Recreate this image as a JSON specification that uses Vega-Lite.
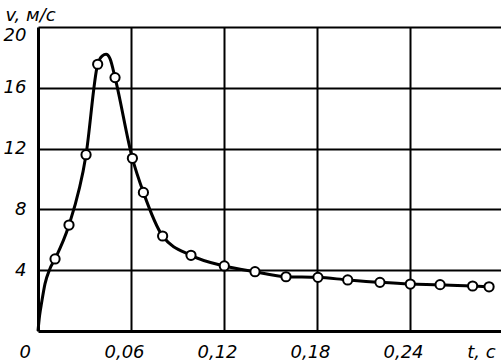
{
  "$schema": "https://vega.github.io/schema/vega-lite/v6.json",
  "width": 463,
  "height": 304,
  "autosize": "none",
  "padding": {"left": 38, "top": 27, "right": 0, "bottom": 32},
  "background": "white",
  "config": {
    "view": {"stroke": null},
    "font": "DejaVu Sans",
    "axis": {
      "labelFont": "DejaVu Sans",
      "labelFontStyle": "italic",
      "labelFontSize": 18,
      "labelColor": "black",
      "titleFont": "DejaVu Sans",
      "titleFontStyle": "italic",
      "titleFontWeight": "normal",
      "titleFontSize": 18,
      "titleColor": "black",
      "gridColor": "black",
      "gridWidth": 2,
      "gridOpacity": 1,
      "domainColor": "black",
      "domainWidth": 3,
      "ticks": false
    }
  },
  "datasets": {
    "curve": [
      {"t": 0, "v": 0},
      {"t": 0.001, "v": 1.0},
      {"t": 0.0024, "v": 1.9},
      {"t": 0.0045, "v": 3.1},
      {"t": 0.0075, "v": 4.05},
      {"t": 0.011, "v": 4.74},
      {"t": 0.02, "v": 6.97},
      {"t": 0.031, "v": 11.6},
      {"t": 0.0385, "v": 17.55},
      {"t": 0.0415, "v": 18.1},
      {"t": 0.0439, "v": 18.2},
      {"t": 0.0465, "v": 17.9},
      {"t": 0.0497, "v": 16.67},
      {"t": 0.0609, "v": 11.36},
      {"t": 0.068, "v": 9.12},
      {"t": 0.0804, "v": 6.25},
      {"t": 0.0987, "v": 4.98},
      {"t": 0.1202, "v": 4.28},
      {"t": 0.14, "v": 3.9},
      {"t": 0.16, "v": 3.57},
      {"t": 0.1806, "v": 3.53},
      {"t": 0.1998, "v": 3.36},
      {"t": 0.2206, "v": 3.2},
      {"t": 0.2402, "v": 3.09},
      {"t": 0.2594, "v": 3.05},
      {"t": 0.2804, "v": 2.96},
      {"t": 0.291, "v": 2.91}
    ],
    "points": [
      {"t": 0.011, "v": 4.74},
      {"t": 0.02, "v": 6.97},
      {"t": 0.031, "v": 11.6},
      {"t": 0.0385, "v": 17.55},
      {"t": 0.0497, "v": 16.67},
      {"t": 0.0609, "v": 11.36},
      {"t": 0.068, "v": 9.12},
      {"t": 0.0804, "v": 6.25},
      {"t": 0.0987, "v": 4.98},
      {"t": 0.1202, "v": 4.28},
      {"t": 0.14, "v": 3.9},
      {"t": 0.16, "v": 3.57},
      {"t": 0.1806, "v": 3.53},
      {"t": 0.1998, "v": 3.36},
      {"t": 0.2206, "v": 3.2},
      {"t": 0.2402, "v": 3.09},
      {"t": 0.2594, "v": 3.05},
      {"t": 0.2804, "v": 2.96},
      {"t": 0.291, "v": 2.91}
    ]
  },
  "encoding": {
    "x": {
      "field": "t",
      "type": "quantitative",
      "scale": {"domain": [0, 0.2987], "nice": false, "zero": false},
      "axis": {
        "values": [0, 0.06, 0.12, 0.18, 0.24],
        "labelExpr": "datum.value == 0 ? '0' : replace(format(datum.value, '.2f'), '.', ',')",
        "labelOffset": {"condition": {"test": "datum.value == 0", "value": -19}, "value": -7},
        "labelPadding": 26,
        "labelBaseline": "alphabetic",
        "title": "t, с",
        "titleX": 443,
        "titleY": 26,
        "titleAlign": "center",
        "titleBaseline": "alphabetic",
        "titleAnchor": null,
        "grid": true,
        "gridWidth": {"condition": {"test": "datum.value == 0", "value": 0}, "value": 2}
      }
    },
    "y": {
      "field": "v",
      "type": "quantitative",
      "scale": {"domain": [0, 20], "nice": false},
      "axis": {
        "values": [4, 8, 12, 16, 20],
        "labelPadding": 12,
        "labelOffset": {"condition": {"test": "datum.value == 20", "value": 8}, "value": 0},
        "title": "v, м/с",
        "titleAngle": 0,
        "titleX": -8,
        "titleY": -7,
        "titleAlign": "center",
        "titleBaseline": "alphabetic",
        "titleAnchor": null,
        "grid": true
      }
    }
  },
  "layer": [
    {
      "data": {"name": "curve"},
      "mark": {"type": "line", "color": "black", "strokeWidth": 3, "interpolate": "monotone"}
    },
    {
      "data": {"name": "points"},
      "mark": {"type": "point", "shape": "circle", "filled": true, "fill": "white", "stroke": "black", "strokeWidth": 2, "size": 85, "opacity": 1}
    }
  ]
}
